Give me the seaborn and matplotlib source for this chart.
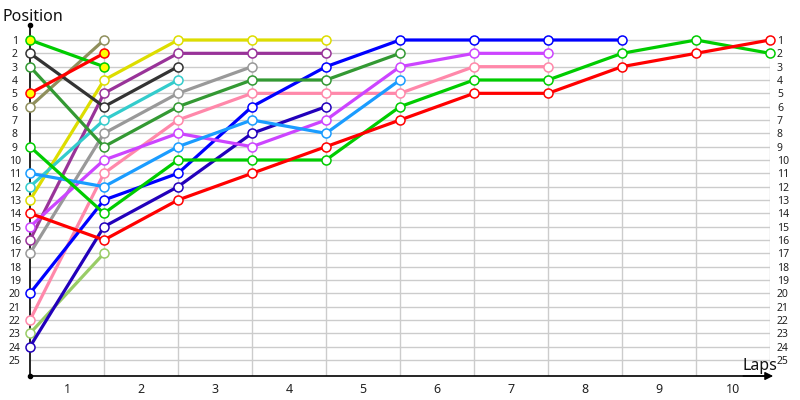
import matplotlib
matplotlib.use('Agg')
import matplotlib.pyplot as plt
import seaborn as sns

sns.set_theme(style='white')
plt.rcParams['font.family'] = ['Noto Sans', 'DejaVu Sans']

laps = [0, 1, 2, 3, 4, 5, 6, 7, 8, 9, 10]
lap_labels = ['1', '2', '3', '4', '5', '6', '7', '8', '9', '10']
positions = list(range(1, 26))
position_labels = [str(p) for p in positions]

# race position of every car at the end of each lap (lap 0 = grid)
lime_a = [1, 3]
dark_gray = [2, 6, 3]
dark_green = [3, 9, 6, 4, 4, 2]
red_a = [5, 2]
olive = [6, 1]
green = [9, 14, 10, 10, 10, 6, 4, 4, 2, 1, 2]
light_blue = [11, 12, 9, 7, 8, 4]
cyan = [12, 7, 4]
yellow = [13, 4, 1, 1, 1]
red = [14, 16, 13, 11, 9, 7, 5, 5, 3, 2, 1]
violet = [15, 10, 8, 9, 7, 3, 2, 2]
purple = [16, 5, 2, 2, 2]
gray = [17, 8, 5, 3]
blue = [20, 13, 11, 6, 3, 1, 1, 1, 1]
pink = [22, 11, 7, 5, 5, 5, 3, 3]
light_olive = [23, 17]
dark_blue = [24, 15, 12, 8, 6]

cars = [
    (light_olive, '#99cc66', 'white'),
    (dark_blue, '#2200bb', 'white'),
    (pink, '#ff88aa', 'white'),
    (blue, '#0000ff', 'white'),
    (gray, '#999999', 'white'),
    (purple, '#993399', 'white'),
    (violet, '#cc44ff', 'white'),
    (yellow, '#dddd00', 'white'),
    (cyan, '#33cccc', 'white'),
    (light_blue, '#1a9cff', 'white'),
    (olive, '#8f8f5c', 'white'),
    (dark_gray, '#333333', 'white'),
    (dark_green, '#339933', 'white'),
    (green, '#00cc00', 'white'),
    (red, '#ff0000', 'white'),
    (lime_a, '#00cc00', '#ffff00'),
    (red_a, '#ff0000', '#ffff00'),
]

y_top, y_bottom = -0.125, 26.2

fig = plt.figure(figsize=(8, 4), dpi=100)
ax = fig.add_axes([30 / 800, 24 / 400, 740 / 800, 351 / 400])

# grid
ax.hlines(positions, 0, 10, color='#cccccc', lw=1, zorder=1)
ax.vlines(laps[1:], 1, y_bottom, color='#cccccc', lw=1, zorder=1)

for pos, col, face in cars:
    sns.lineplot(x=laps[:len(pos)], y=pos, color=col, linewidth=2.3,
                 marker='o', markersize=6.5, markerfacecolor=face,
                 markeredgecolor=col, markeredgewidth=1.1, ax=ax,
                 zorder=3, clip_on=False)

ax.set_xlim(0, 10)
ax.set_ylim(y_bottom, y_top)

ax.set_xticks(laps, [''] * len(laps))
ax.set_xticks([l + 0.5 for l in laps[:-1]], lap_labels, minor=True)
ax.tick_params(axis='x', which='both', length=0, labelsize=9, pad=5,
               colors='#222222')

ax.set_yticks(positions, position_labels)
ax.tick_params(axis='y', length=0, labelsize=7.5, pad=11, colors='#222222')
for t in ax.yaxis.get_major_ticks():
    t.label1.set_horizontalalignment('center')

sec = ax.secondary_yaxis('right')
sec.set_yticks(positions, position_labels)
sec.tick_params(length=0, labelsize=7.5, pad=5, colors='#222222')
sec.spines['right'].set_visible(False)

for s in ['top', 'right']:
    ax.spines[s].set_visible(False)
for s in ['left', 'bottom']:
    ax.spines[s].set_color('black')
    ax.spines[s].set_linewidth(1.2)

ax.plot([0, 0], [y_top, y_bottom], 'o', color='black', ms=3, clip_on=False,
        zorder=5)
ax.annotate('', xy=(10.08, y_bottom), xytext=(9.6, y_bottom),
            arrowprops=dict(arrowstyle='-|>', color='black', lw=1,
                            mutation_scale=12),
            annotation_clip=False)

fig.text(3 / 800, 1 - 21 / 400, 'Position', fontsize=11.5, va='baseline',
         color='#111111')
fig.text(742 / 800, 1 - 370 / 400, 'Laps', fontsize=11.5, va='baseline',
         color='#111111')

fig.savefig('out.png', dpi=100)
